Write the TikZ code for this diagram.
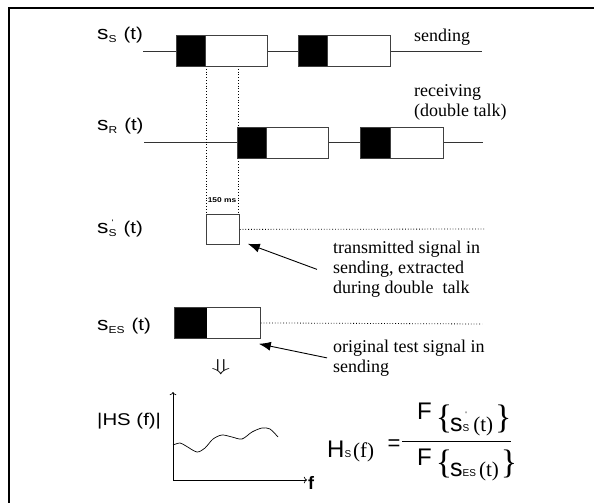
\documentclass[tikz,border=0pt]{standalone}
\usepackage{fontspec}
\setmainfont{Liberation Serif}
\newfontfamily\arial[FakeStretch=1.2]{Liberation Sans}
\newfontfamily\arialn{Liberation Sans}
\usetikzlibrary{arrows.meta}

% small subscript letters of the labels
\newcommand\lsub[1]{\raisebox{-3pt}{\arial\fontsize{10}{10}\selectfont #1}}
\newcommand\fsub[1]{{\arialn\fontsize{10}{10}\selectfont #1}}

\begin{document}
\begin{tikzpicture}[x=1pt, y=-1pt, >=To,
  sigline/.style={line width=0.8pt, black!80},
  boxline/.style={line width=0.8pt, draw=black!75},
  dots/.style={dotted, line width=0.8pt},
  lbl/.style={font=\arial\fontsize{17}{20}\selectfont, anchor=base west, inner sep=0pt},
  note/.style={font=\fontsize{18}{20}\selectfont, align=left, anchor=north west, inner sep=0pt},
  pointer/.style={-{Latex[length=12pt, width=9pt]}, line width=0.9pt}]
  \useasboundingbox (0,0) rectangle (594,503);
  \draw[line width=2pt] (8.5,503) -- (8.5,8.5) -- (594,8.5);

  % signal rows
  \node[lbl] (sS) at (97,40) {{\fontsize{19}{20}\selectfont s}\lsub{S}\hspace{7pt}(t)};
  \node[lbl] (sR) at (97,130) {{\fontsize{19}{20}\selectfont s}\lsub{R}\hspace{7pt}(t)};
  \draw[sigline] (143,51) -- (482,51);
  \draw[sigline] (144,142) -- (483,142);
  \node[anchor=base west, inner sep=0pt, font=\fontsize{18}{20}\selectfont] (snd) at (414,42) {sending};
  \node[note] (rcv) at (414,84) {receiving\\(double talk)};

  \draw[dots] (206,66) -- (206,214);
  \draw[dots] (238,66) -- (238,214);

  \foreach \a/\b/\c/\y in {176/205/267/35, 298/327/390/35, 237/266/328/127, 360/390/443/127} {
    \filldraw[boxline, fill=white] (\b,\y) rectangle (\c,\y+31);
    \fill[black] (\a,\y) rectangle (\b,\y+31);
    \draw[boxline] (\a,\y) rectangle (\c,\y+31);
  }

  % extracted part
  \node[inner sep=0pt, font=\arial\bfseries\fontsize{7}{7}\selectfont] (dur) at (222,200) {150 ms};
  \node[lbl] (sE) at (97,233) {{\fontsize{19}{20}\selectfont s}\raisebox{-3pt}{\arial\fontsize{10}{10}\selectfont\shortstack{\fontsize{8}{8}\selectfont '\\[1pt]S}}\hspace{7pt}(t)};
  \node[boxline, draw, minimum width=33, minimum height=30, anchor=north west, inner sep=0pt] (echo) at (206,214) {};
  \draw[dots] (echo.east) -- (485,229);
  \node[note] (tx1) at (333,241) {transmitted signal in\\sending, extracted\\during double~ talk};
  \draw[pointer] ([xshift=-16pt]tx1.west) -- ([xshift=8pt,yshift=1pt]echo.south east);

  % reference signal
  \node[lbl] (sES) at (97,330) {{\fontsize{19}{20}\selectfont s}\lsub{ES}\hspace{7pt}(t)};
  \node[boxline, draw, fill=white, minimum width=86, minimum height=31, anchor=north west, inner sep=0pt] (esbox) at (174,307) {};
  \fill[black] (esbox.north west) rectangle (207,338);
  \draw[boxline] (esbox.north west) rectangle (esbox.south east);
  \draw[dots] (esbox.east) -- (482,324);
  \node[note] (tx2) at (333,339.5) {original test signal in\\sending};
  \draw[pointer] ([xshift=-6pt]tx2.west) -- ([xshift=-2pt,yshift=-5pt]esbox.south east);
  \node[inner sep=0pt, xscale=1.8, font=\fontsize{18}{18}\selectfont] (down) at (221,367) {$\Downarrow$};

  % magnitude plot
  \node[lbl] (hs) at (97,425) {|HS (f)|};
  \coordinate (org) at (173,480);
  \draw[line width=0.7pt, ->] (org) -- (173,392);
  \draw[line width=0.7pt, ->] (org) -- (307,480);
  \node[anchor=west, inner sep=1pt, font=\arialn\bfseries\fontsize{18}{18}\selectfont] (fax) at (307,483) {f};
  \draw[line width=0.7pt] plot[smooth] coordinates {(173,445) (180,443) (186,446) (197,452) (205,448) (213,439) (222,435) (232,437) (242,439) (252,432) (262,428) (270,429) (278,437)};

  % transfer function
  \node[anchor=base west, inner sep=0pt] (Hs) at (327,457) {\arialn\fontsize{24}{24}\selectfont H\fsub{S}\hspace{2pt}\rmfamily\fontsize{21}{21}\selectfont(f)};
  \node[inner sep=0pt, font=\arialn\fontsize{22}{22}\selectfont] (eq) at (394,445) {=};
  \draw[line width=0.8pt] (402,441) -- (511,441);
  \node[anchor=base west, inner sep=0pt] (num) at (417,431) {\raisebox{12pt}{\arialn\fontsize{24}{24}\selectfont F}\hspace{4pt}\raisebox{3pt}{\fontsize{34}{34}\selectfont\{}\hspace{-2pt}{\arialn\fontsize{25}{25}\selectfont s}\raisebox{0pt}{\arialn\fontsize{10}{10}\selectfont\shortstack{\fontsize{8}{8}\selectfont '\\[4pt]S}}\hspace{4pt}{\fontsize{21}{21}\selectfont(t)}\hspace{2pt}\raisebox{3pt}{\fontsize{34}{34}\selectfont\}}};
  \node[anchor=base west, inner sep=0pt] (den) at (417,476) {\raisebox{11pt}{\arialn\fontsize{24}{24}\selectfont F}\hspace{4pt}\raisebox{3pt}{\fontsize{34}{34}\selectfont\{}\hspace{-2pt}{\arialn\fontsize{25}{25}\selectfont s}\fsub{ES}\hspace{3pt}{\fontsize{21}{21}\selectfont(t)}\hspace{2pt}\raisebox{3pt}{\fontsize{34}{34}\selectfont\}}};
\end{tikzpicture}
\end{document}
